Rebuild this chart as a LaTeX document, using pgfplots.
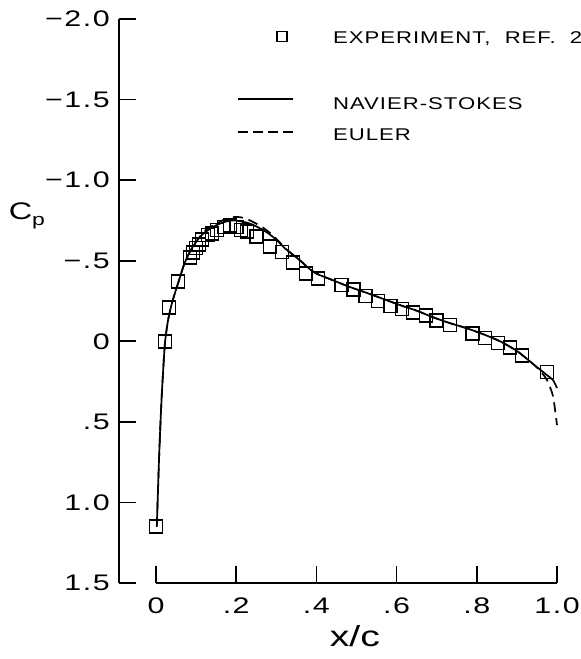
\documentclass[border=0pt]{standalone}
\usepackage{fontspec}
\setmainfont{Liberation Sans}
\newfontfamily\tickfont{Liberation Sans}[FakeStretch=1.35,LetterSpace=7]
\newfontfamily\labfont{Liberation Sans}[FakeStretch=1.35]
\newfontfamily\legfont{Liberation Sans}[FakeStretch=1.3,LetterSpace=6]
\usepackage{pgfplots}
\usepackage{pgfplotstable}
\pgfplotsset{compat=1.18}

\pgfplotstableread{
x cp
0.000 1.15
0.022 0.00
0.032 -0.21
0.055 -0.37
0.085 -0.52
0.092 -0.55
0.100 -0.58
0.107 -0.60
0.115 -0.63
0.130 -0.66
0.140 -0.67
0.152 -0.69
0.170 -0.71
0.185 -0.72
0.200 -0.71
0.212 -0.69
0.227 -0.68
0.250 -0.65
0.284 -0.59
0.314 -0.555
0.342 -0.49
0.374 -0.42
0.404 -0.39
0.462 -0.35
0.492 -0.32
0.522 -0.28
0.554 -0.25
0.585 -0.22
0.613 -0.20
0.641 -0.18
0.673 -0.16
0.700 -0.13
0.733 -0.10
0.790 -0.05
0.820 -0.02
0.853 0.01
0.883 0.04
0.913 0.09
0.975 0.19
}\exptable

\pgfplotstableread{
x cp
0.002 1.15
0.008 0.70
0.014 0.35
0.022 0.02
0.030 -0.13
0.040 -0.24
0.055 -0.36
0.072 -0.49
0.090 -0.58
0.110 -0.65
0.130 -0.69
0.150 -0.72
0.170 -0.74
0.190 -0.75
0.210 -0.745
0.235 -0.73
0.260 -0.70
0.280 -0.67
0.300 -0.63
0.320 -0.58
0.340 -0.54
0.360 -0.50
0.380 -0.455
0.400 -0.42
0.440 -0.38
0.480 -0.34
0.526 -0.30
0.570 -0.26
0.608 -0.225
0.650 -0.19
0.690 -0.15
0.730 -0.115
0.776 -0.08
0.820 -0.04
0.858 0.00
0.900 0.06
0.940 0.14
0.975 0.21
0.990 0.24
1.000 0.29
}\nstable

\pgfplotstableread{
x cp
0.002 1.15
0.008 0.70
0.014 0.35
0.022 0.02
0.030 -0.13
0.040 -0.24
0.055 -0.36
0.072 -0.49
0.090 -0.58
0.110 -0.65
0.130 -0.70
0.150 -0.73
0.170 -0.755
0.190 -0.77
0.210 -0.77
0.230 -0.755
0.250 -0.73
0.270 -0.70
0.290 -0.66
0.310 -0.61
0.330 -0.56
0.360 -0.50
0.380 -0.455
0.400 -0.42
0.440 -0.38
0.480 -0.34
0.526 -0.30
0.570 -0.26
0.608 -0.225
0.650 -0.19
0.690 -0.15
0.730 -0.115
0.776 -0.08
0.820 -0.04
0.858 0.00
0.900 0.06
0.940 0.14
0.960 0.19
0.975 0.24
0.990 0.34
1.000 0.52
}\eulertable

\begin{document}
\begin{tikzpicture}
\useasboundingbox (-119bp,-76bp) rectangle (462bp,583bp);
\begin{axis}[
  scale only axis, width=438bp, height=564bp,
  at={(0,0)}, anchor=south west,
  xmin=-0.0923, xmax=1.0, ymin=-2, ymax=1.5, y dir=reverse,
  axis x line=bottom, axis y line=left,
  axis line style={-, line width=1.8bp},
  x axis line style={draw=none},
  tick align=inside, major tick length=17bp,
  every tick/.style={black, line width=1.6bp},
  xtick={0,0.2,0.4,0.6,0.8,1.0},
  xticklabels={0,.2,.4,.6,.8,1.0},
  ytick={-2,-1.5,-1,-0.5,0,0.5,1,1.5},
  yticklabels={−2.0,−1.5,−1.0,−.5,0,.5,1.0,1.5},
  tick label style={font=\tickfont\fontsize{22.5bp}{26bp}\selectfont},
  xticklabel style={anchor=center, inner sep=0pt, yshift=-23bp},
  yticklabel style={anchor=east, inner sep=0pt, xshift=-9bp},
  clip=false,
]
% x axis line from 0 to 1
\addplot[black, line width=1.8bp, forget plot] coordinates {(0,1.5) (1,1.5)};
% Navier-Stokes
\addplot[black, line width=1.7bp, smooth, tension=0.4] table[x=x,y=cp] {\nstable};
% Euler
\addplot[black, line width=1.7bp, dash pattern=on 10bp off 6bp, smooth, tension=0.4] table[x=x,y=cp] {\eulertable};
% Experiment
\addplot[only marks, mark=square, mark size=6.5bp, mark options={line width=1.6bp, fill=none}] table[x=x,y=cp] {\exptable};
% legend
\addplot[only marks, mark=square, mark size=5bp, mark options={line width=1.5bp}] coordinates {(0.314,-1.89)};
\addplot[black, line width=1.6bp] coordinates {(0.204,-1.504) (0.342,-1.504)};
\addplot[black, line width=1.6bp, dash pattern=on 10bp off 5bp] coordinates {(0.204,-1.30) (0.342,-1.30)};
\node[anchor=west, inner sep=0pt, font=\legfont\fontsize{17bp}{20bp}\selectfont] at (axis cs:0.441,-1.876) {EXPERIMENT,\hspace{7bp} REF.\hspace{7bp} 2};
\node[anchor=west, inner sep=0pt, font=\legfont\fontsize{17bp}{20bp}\selectfont] at (axis cs:0.441,-1.476) {NAVIER-STOKES};
\node[anchor=west, inner sep=0pt, font=\legfont\fontsize{17bp}{20bp}\selectfont] at (axis cs:0.441,-1.28) {EULER};
% axis labels
\node[inner sep=0pt, font=\labfont\fontsize{29bp}{32bp}\selectfont] at (axis cs:0.496,1.83) {x/c};
\node[inner sep=0pt, font=\labfont\fontsize{24bp}{28bp}\selectfont] at (axis cs:-0.322,-0.78) {C\raisebox{-0.45ex}{\fontsize{17bp}{19bp}\selectfont p}};
\end{axis}
\end{tikzpicture}
\end{document}
